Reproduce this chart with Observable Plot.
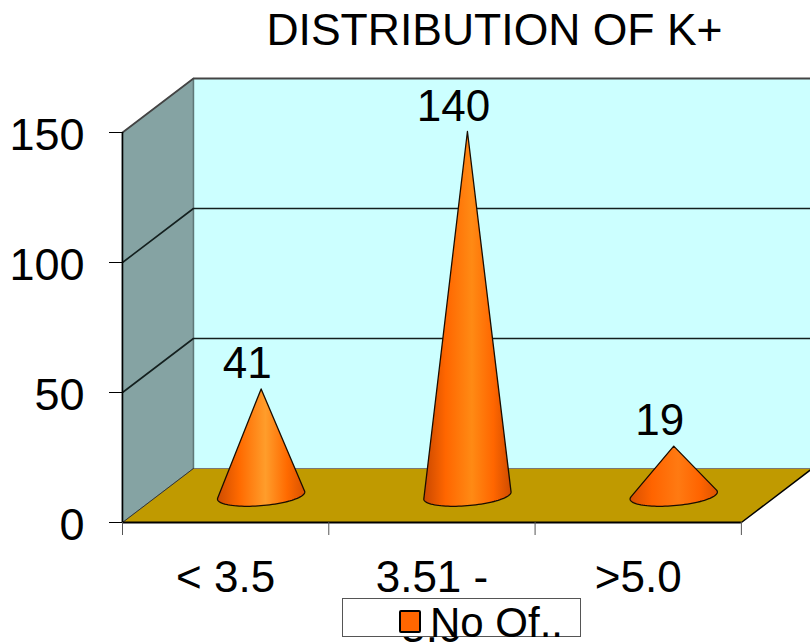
<!DOCTYPE html>
<html>
<head>
<meta charset="utf-8">
<script src="https://cdn.jsdelivr.net/npm/d3@7"></script>
<script src="https://cdn.jsdelivr.net/npm/@observablehq/plot@0.6"></script>
<style>
  html, body { margin: 0; padding: 0; background: #fff; overflow: hidden; }
  body { position: relative; width: 810px; height: 644px; font-family: "Liberation Sans", Arial, sans-serif; color: #000; }
  #title { height: 60px; width: 810px; font-size: 44.5px; line-height: 50px; }
  #title span { position: absolute; left: 494.5px; top: 5px; transform: translateX(-50%); white-space: nowrap; }
  #legend { position: absolute; left: 342px; top: 598px; width: 239px; height: 39px; box-sizing: border-box; background: #fff; border: 1px solid #555; }
  #legend i { position: absolute; left: 56px; top: 11px; width: 22px; height: 23px; box-sizing: border-box; background: #ff6600; border: 2px solid #000; border-radius: 2px; }
  #legend span { position: absolute; left: 87px; top: 1px; font-size: 42px; line-height: 46px; white-space: nowrap; }
</style>
</head>
<body>
<div id="title"><span>DISTRIBUTION OF K+</span></div>
<div id="chart"></div>
<div id="legend"><i></i><span id="legend-text"></span></div>
<script>
// Potassium distribution: patient counts per K+ range.
const categories = ["< 3.5", "3.51 -\n5.0", ">5.0"];
const counts = [41, 140, 19];
const valueTicks = [0, 50, 100, 150];
const seriesName = "No Of..";

// Oblique box: the back plane is displaced by these amounts in data units.
const depthX = 0.344;
const depthY = 20.77;
const topValue = 150;
const coneRadius = 0.2;

// Project a point (category position, value, depth 0..1) onto the picture plane.
const project = (c, v, d) => ({x: c + d * depthX, y: v + d * depthY});

const sideWall = [project(0, 0, 0), project(0, 0, 1), project(0, topValue, 1), project(0, topValue, 0)];
const backWall = [project(0, 0, 1), project(3, 0, 1), project(3, topValue, 1), project(0, topValue, 1)];
const floor = [project(0, 0, 0), project(3, 0, 0), project(3, 0, 1), project(0, 0, 1)];

// Silhouette of a cone on the floor: hull of the apex and the projected base circle.
function coneOutline(i) {
  const c = i + 0.5;
  const pts = d3.range(0, 96).map(k => {
    const t = (k / 96) * 2 * Math.PI;
    const p = project(c + coneRadius * Math.cos(t), 0, 0.5 + coneRadius * Math.sin(t));
    return [p.x, p.y];
  });
  const apex = project(c, counts[i], 0.5);
  pts.push([apex.x, apex.y]);
  return d3.polygonHull(pts).map(([x, y]) => ({x, y}));
}

// Horizontal shading of each cone: dark rim, brighter centre.
const coneShades = [
  ["#cf4c00", "#ff6a00", "#ff9d2b", "#ff6a00", "#d85200"],
  ["#c94800", "#ff6600", "#ff8a14", "#ff6600", "#d04c00"],
  ["#d85000", "#ff6400", "#ff7a12", "#ff6400", "#dc5400"]
];

const gradients = () => {
  const defs = d3.create("svg:defs");
  coneShades.forEach((stops, i) => {
    const g = defs.append("linearGradient").attr("id", `cone-${i}`);
    const offsets = [0, 0.25, 0.55, 0.8, 1];
    stops.forEach((color, k) => {
      g.append("stop").attr("offset", offsets[k]).attr("stop-color", color);
    });
  });
  return defs.node();
};

const line = (points, options) => Plot.line(points, {x: "x", y: "y", ...options});

const plot = Plot.plot({
  width: 810,
  height: 584,
  marginTop: 18,
  marginBottom: 122,
  marginLeft: 122,
  marginRight: 0,
  style: {fontFamily: "Liberation Sans, Arial, sans-serif", background: "transparent", color: "#000"},
  x: {domain: [0, 3.335], axis: null},
  y: {domain: [0, topValue + depthY], axis: null},
  marks: [
    gradients,
    line(sideWall, {fill: "#85a3a3", stroke: "#5f7878", strokeWidth: 1, curve: "linear-closed"}),
    line(backWall, {fill: "#ccffff", stroke: "none", curve: "linear-closed"}),
    line([project(0, 0, 1), project(0, topValue, 1)], {stroke: "#5f7878", strokeWidth: 1.5}),
    // Gridlines wrap from the side wall onto the back wall.
    ...valueTicks.slice(1).map(v => line(
      [project(0, v, 0), project(0, v, 1), project(3, v, 1)],
      {stroke: v === topValue ? "#444" : "#14201f", strokeWidth: v === topValue ? 1.8 : 1.6}
    )),
    line(floor, {fill: "#c09a00", stroke: "none", curve: "linear-closed"}),
    line([project(0, 0, 1), project(3, 0, 1)], {stroke: "#777", strokeWidth: 1}),
    line([project(0, 0, 0), project(0, 0, 1)], {stroke: "#333", strokeWidth: 1}),
    line([project(3, 0, 0), project(3, 0, 1)], {stroke: "#000", strokeWidth: 1.5}),
    ...counts.map((_, i) => line(coneOutline(i), {
      fill: `url(#cone-${i})`, stroke: "#1a0d00", strokeWidth: 1.3, curve: "linear-closed"
    })),
    Plot.ruleX([0], {y1: 0, y2: topValue, stroke: "#000", strokeWidth: 1.6}),
    Plot.ruleY([0], {x1: 0, x2: 3, stroke: "#000", strokeWidth: 2}),
    Plot.axisY({ticks: valueTicks, tickSize: 13, tickFormat: () => "", label: null, stroke: "#000"}),
    Plot.axisY({ticks: valueTicks, tickSize: 0, tickPadding: 38, dy: 3, fontSize: 45, label: null, tickFormat: d3.format("d")}),
    Plot.axisX({ticks: [0, 1, 2, 3], tickSize: 13, tickFormat: () => "", label: null, stroke: "#555"}),
    Plot.text(categories, {
      x: (_, i) => i + 0.5, y: () => 0,
      text: d => d, fontSize: 44, dy: 34, lineAnchor: "top", lineHeight: 1.13, textAnchor: "middle"
    }),
    Plot.text(counts, {
      x: (_, i) => project(i + 0.5, 0, 0.5).x,
      y: d => project(0, d, 0.5).y,
      text: d => String(d), fontSize: 44, dx: -14, dy: -25, textAnchor: "middle", fill: "#000"
    })
  ]
});
document.getElementById("chart").append(plot);
document.getElementById("legend-text").textContent = seriesName;
</script>
</body>
</html>
